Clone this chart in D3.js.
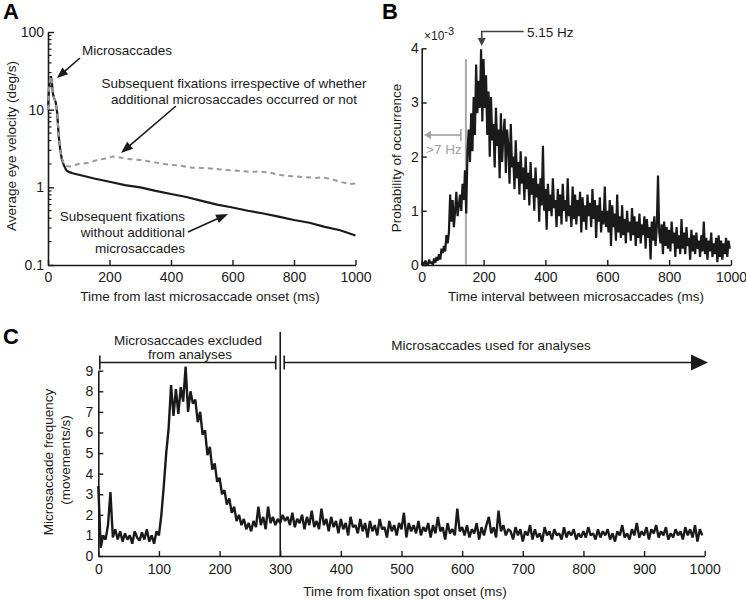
<!DOCTYPE html>
<html>
<head>
<meta charset="utf-8">
<script src="https://cdn.jsdelivr.net/npm/d3@7"></script>
<style>
  html, body { margin: 0; padding: 0; background: #fff; }
  svg text { font-family: "Liberation Sans", Arial, sans-serif; }
</style>
</head>
<body>
<svg id="chart" width="746" height="600"></svg>
<script>
// ---------------- DATA ----------------
// Panel A: average eye velocity (deg/s) vs time from last microsaccade onset (ms)
const timesASolid = [0,3,6,9,12,16,20,25,30,35,40,45,50,55,60,70,80,100,150,200,250,300,350,400,450,500,550,600,650,700,750,800,850,900,950,1000];
const velSolid    = [10,18,24,27,24,16,14,12.5,9,4.5,3,2.3,2.0,1.8,1.65,1.57,1.52,1.45,1.3,1.18,1.07,1.0,0.9,0.82,0.75,0.67,0.6,0.55,0.5,0.46,0.42,0.38,0.35,0.31,0.28,0.24];
const timesADashed = [0,3,6,9,12,16,20,25,30,35,40,45,50,55,70,100,130,160,190,210,240,270,300,330,360,400,430,460,500,530,560,600,630,660,690,720,750,780,810,840,870,890,920,950,980,1000];
const velDashed    = [10,18,24,27,24,16,14,12.5,9,4.5,3,2.4,2.1,1.9,1.85,2.0,2.05,2.25,2.35,2.5,2.4,2.3,2.25,2.15,2.05,1.95,1.9,1.8,1.78,1.75,1.7,1.65,1.62,1.58,1.6,1.55,1.45,1.4,1.38,1.35,1.32,1.35,1.28,1.18,1.1,1.12];
const ticksAX = [0,200,400,600,800,1000];
const ticksAY = [0.1,1,10,100];
const tickLabelsAY = ["0.1","1","10","100"];

// Panel B: probability of occurrence (x10^-3), 4-ms bins from 0 to 996 ms
const binB = 4;
const probB = [
 0,0.05,0,0.08,0.02,0,0.1,0.03,0.06,0,
 0.12,0.04,0.15,0.08,0.2,0.1,0.3,0.22,0.35,0.25,
 0.55,0.4,0.6,1.3,0.8,1.2,0.7,1.0,1.35,0.9,
 1.1,1.3,1.0,1.5,1.2,1.75,0.95,2.1,2.5,1.9,
 2.8,2.1,3.1,2.4,3.7,2.8,3.4,2.9,3.98,2.65,
 3.8,2.9,3.5,2.4,3.2,2.0,3.1,2.3,2.6,1.8,
 2.9,2.2,2.5,1.6,2.8,1.9,2.4,2.7,1.7,2.5,
 2.2,1.5,2.6,1.8,2.0,1.4,2.3,1.6,1.9,1.3,
 2.1,1.5,1.8,1.2,2.0,1.4,1.7,1.1,1.9,1.3,
 1.6,1.0,1.8,1.25,1.5,0.8,1.6,1.1,2.2,1.0,
 1.4,0.65,1.5,1.0,1.3,0.9,1.6,1.05,1.2,0.7,
 1.4,0.9,1.3,0.75,1.5,1.0,1.2,0.8,1.6,0.9,
 1.1,0.7,1.45,0.85,1.3,0.75,1.2,0.9,1.35,0.6,
 1.25,0.8,1.1,0.65,1.3,0.9,1.15,0.7,1.4,0.85,
 1.2,0.5,1.1,0.8,1.25,0.6,1.0,0.75,1.45,0.7,
 1.0,0.6,1.2,0.35,1.1,0.7,0.95,0.45,1.3,0.6,
 0.9,0.5,1.1,0.55,0.85,0.4,1.0,0.6,0.8,0.45,
 1.05,0.55,0.9,0.35,0.8,0.5,0.95,0.4,0.75,0.55,
 0.9,0.3,0.85,0.5,0.7,0.1,0.8,0.45,0.9,0.35,
 0.7,1.65,0.6,0.4,0.75,0.2,0.8,0.35,0.7,0.3,
 0.65,0.25,0.8,0.4,0.6,0.15,0.7,0.3,0.55,0.2,
 0.85,0.3,0.6,0.2,0.7,0.35,0.5,0.1,0.65,0.25,
 0.55,0.2,0.6,0.3,0.45,0.15,0.55,0.25,0.8,0.2,
 0.5,0.1,0.45,0.25,0.6,0.15,0.4,0.2,0.5,0.05,
 0.55,0.15,0.45,0.1,0.4,0.2,0.5,0.15,0.45,0.3
];
const ticksBX = [0,200,400,600,800,1000];
const ticksBY = [0,1,2,3,4];
const cutoffHzB = 7;      // grey line at 1000/7 ms
const peakHzB = 5.15;     // arrow at 1000/5.15 ms

// Panel C: microsaccade frequency (movements/s), 4-ms bins from 0 to 996 ms
const binC = 4;
const freqC = [
 3.4,0.4,1.0,0.8,1.5,3.1,0.9,1.3,0.8,1.2,
 0.7,1.1,0.8,1.0,0.6,1.2,0.9,0.75,1.15,0.8,
 1.3,0.7,1.0,0.6,1.2,1.0,2.0,3.4,5.0,6.2,
 8.3,6.8,8.1,6.9,8.2,7.5,9.2,7.0,8.0,7.4,
 7.6,6.5,7.0,5.9,6.1,4.9,5.3,4.2,4.5,3.6,
 3.8,3.0,3.2,2.5,2.8,2.1,2.4,1.7,2.0,1.5,
 1.8,1.3,1.6,1.2,1.7,1.4,2.4,1.5,1.9,1.3,
 2.4,1.6,1.9,1.5,1.8,1.6,2.0,1.7,1.9,1.5,
 2.1,1.4,1.8,1.6,2.0,1.3,1.9,1.5,2.2,1.4,
 1.7,1.3,2.3,1.5,1.8,1.2,1.9,1.4,1.7,1.1,
 1.8,1.3,1.6,1.0,1.9,1.4,1.5,1.1,1.8,1.2,
 1.6,0.9,1.7,1.2,1.5,1.0,1.8,1.3,1.4,0.9,
 1.7,1.2,1.5,1.0,1.6,1.3,2.1,0.9,1.6,1.2,
 1.5,1.1,1.7,1.0,1.4,1.2,1.6,0.9,1.5,1.1,
 1.9,1.2,1.4,0.8,1.6,1.1,1.3,1.0,2.3,1.2,
 1.4,1.0,1.5,0.9,1.3,1.1,1.6,0.8,1.4,1.0,
 1.5,1.9,1.1,1.4,0.9,2.2,1.2,1.5,1.0,1.3,
 1.2,0.8,1.4,1.0,1.3,0.7,1.2,1.0,1.5,0.8,
 1.3,0.9,1.1,0.7,1.4,1.0,1.2,0.8,1.3,1.0,
 1.1,0.8,1.4,0.9,1.2,1.0,1.3,0.8,1.1,0.9,
 1.2,0.9,1.4,1.0,1.1,0.8,1.3,0.9,1.2,1.0,
 1.3,0.8,1.1,0.7,1.2,1.0,1.5,0.9,1.1,0.8,
 1.3,1.0,1.6,0.9,1.2,1.0,1.4,0.8,1.3,1.1,
 1.5,0.9,1.2,1.0,1.4,0.8,1.1,0.9,1.3,1.0,
 1.2,0.8,1.4,1.0,1.3,0.9,1.5,0.7,1.3,1.0
];
const ticksCX = [0,100,200,300,400,500,600,700,800,900,1000];
const ticksCY = [0,1,2,3,4,5,6,7,8,9];
const splitC = 300;

// ---------------- DRAWING ----------------
const svg = d3.select("#chart");
const FONT = 13.5;

function axisStyle(g) {
  g.select(".domain").attr("stroke", "#1a1a1a").attr("stroke-width", 1.6);
  g.selectAll(".tick line").attr("stroke", "#1a1a1a").attr("stroke-width", 1.4);
  g.selectAll(".tick text").attr("font-size", 14).attr("fill", "#1a1a1a")
    .attr("font-family", '"Liberation Sans", Arial, sans-serif');
}

function arrowHead(g, x1, y1, x2, y2, color, len, w) {
  const a = Math.atan2(y2 - y1, x2 - x1);
  const bx = x2 - len * Math.cos(a), by = y2 - len * Math.sin(a);
  const px = -Math.sin(a) * w / 2, py = Math.cos(a) * w / 2;
  g.append("polygon")
    .attr("points", `${x2},${y2} ${bx + px},${by + py} ${bx - px},${by - py}`)
    .attr("fill", color);
}
function arrow(g, x1, y1, x2, y2, color, sw, len, w) {
  const a = Math.atan2(y2 - y1, x2 - x1);
  g.append("line").attr("x1", x1).attr("y1", y1)
    .attr("x2", x2 - (len - 1) * Math.cos(a)).attr("y2", y2 - (len - 1) * Math.sin(a))
    .attr("stroke", color).attr("stroke-width", sw);
  arrowHead(g, x1, y1, x2, y2, color, len, w);
}
function label(g, x, y, txt, opts = {}) {
  return g.append("text").attr("x", x).attr("y", y).text(txt)
    .attr("font-size", opts.size || FONT)
    .attr("fill", opts.color || "#1a1a1a")
    .attr("text-anchor", opts.anchor || "middle")
    .attr("font-weight", opts.weight || "normal");
}

// ===== Panel A =====
const gA = svg.append("g");
const xA = d3.scaleLinear().domain([0, 1000]).range([48, 355.5]);
const yA = d3.scaleLog().domain([0.1, 100]).range([265, 32]);

const minorA = [];
[0.1, 1, 10].forEach(d => { for (let k = 2; k <= 9; k++) minorA.push(d * k); });
gA.append("g").selectAll("line").data(minorA).join("line")
  .attr("x1", xA(0)).attr("x2", xA(0) + 3.5)
  .attr("y1", d => yA(d)).attr("y2", d => yA(d))
  .attr("stroke", "#1a1a1a").attr("stroke-width", 1.2);

const axAx = gA.append("g").attr("transform", `translate(0,${yA(0.1)})`)
  .call(d3.axisBottom(xA).tickValues(ticksAX).tickSizeInner(-5).tickSizeOuter(0).tickPadding(7).tickFormat(d3.format("d")));
axisStyle(axAx);
const axAy = gA.append("g").attr("transform", `translate(${xA(0)},0)`)
  .call(d3.axisLeft(yA).tickValues(ticksAY).tickSizeInner(-6).tickSizeOuter(0).tickPadding(4)
    .tickFormat((d, i) => tickLabelsAY[i]));
axisStyle(axAy);

const lineA = d3.line().x(d => xA(d[0])).y(d => yA(d[1]));
gA.append("path").datum(timesASolid.map((t, i) => [t, velSolid[i]]))
  .attr("d", lineA).attr("fill", "none").attr("stroke", "#1a1a1a").attr("stroke-width", 2.2);
gA.append("path").datum(timesADashed.map((t, i) => [t, velDashed[i]]))
  .attr("d", lineA).attr("fill", "none").attr("stroke", "#9a9a9a").attr("stroke-width", 2)
  .attr("stroke-dasharray", "5,4");

label(gA, 3, 19, "A", { size: 22, weight: "bold", anchor: "start", color: "#000" });
label(gA, 0, 0, "Average eye velocity (deg/s)").attr("transform", "translate(16,146) rotate(-90)");
label(gA, 200, 301, "Time from last microsaccade onset (ms)");

label(gA, 82, 55, "Microsaccades", { anchor: "start" });
arrow(gA, 80, 58, 57, 78, "#1a1a1a", 1.6, 11, 9);
label(gA, 234, 88, "Subsequent fixations irrespective of whether");
label(gA, 234, 104, "additional microsaccades occurred or not");
arrow(gA, 176, 106, 121, 153, "#1a1a1a", 1.6, 12, 9);
label(gA, 185, 221, "Subsequent fixations", { anchor: "end" });
label(gA, 185, 237, "without additional", { anchor: "end" });
label(gA, 185, 253, "microsaccades", { anchor: "end" });
arrow(gA, 188, 232, 228, 214, "#1a1a1a", 1.6, 12, 9);

// ===== Panel B =====
const gB = svg.append("g");
const xB = d3.scaleLinear().domain([0, 1000]).range([421.7, 731]);
const yB = d3.scaleLinear().domain([0, 4]).range([265, 48.3]);

const axBx = gB.append("g").attr("transform", `translate(0,${yB(0)})`)
  .call(d3.axisBottom(xB).tickValues(ticksBX).tickSizeInner(-5).tickSizeOuter(0).tickPadding(7).tickFormat(d3.format("d")));
axisStyle(axBx);
const axBy = gB.append("g").attr("transform", `translate(${xB(0)},0)`)
  .call(d3.axisLeft(yB).tickValues(ticksBY).tickSizeInner(-5).tickSizeOuter(0).tickPadding(3).tickFormat(d3.format("d")));
axisStyle(axBy);

const xCut = xB(1000 / cutoffHzB);
gB.append("line").attr("x1", xCut).attr("x2", xCut).attr("y1", yB(0)).attr("y2", yB(3.8))
  .attr("stroke", "#a8a8a8").attr("stroke-width", 2);

gB.append("path").datum(probB.map((v, i) => [i * binB, v]))
  .attr("d", d3.line().x(d => xB(d[0])).y(d => yB(d[1])))
  .attr("fill", "none").attr("stroke", "#1a1a1a").attr("stroke-width", 2.2).attr("stroke-linejoin", "bevel");

// >7 Hz arrow
const yHz = 135;
arrow(gB, xCut - 5, yHz, 424, yHz, "#a0a0a0", 1.6, 7, 8);
gB.append("line").attr("x1", xCut - 5).attr("x2", xCut - 5).attr("y1", yHz - 6).attr("y2", yHz + 6)
  .attr("stroke", "#a0a0a0").attr("stroke-width", 1.6);
label(gB, 426, 154, ">7 Hz", { anchor: "start", color: "#a0a0a0" });

// 5.15 Hz arrow
const xPk = xB(1000 / peakHzB);
gB.append("path").attr("d", `M${xB(0) + 102},31.5 H${xPk} V40`)
  .attr("fill", "none").attr("stroke", "#404040").attr("stroke-width", 1.6);
arrowHead(gB, xPk, 31.5, xPk, 46, "#404040", 8, 8);
label(gB, 527, 37, "5.15 Hz", { anchor: "start" });

const sci = gB.append("text").attr("x", 424).attr("y", 40).attr("font-size", 12).attr("fill", "#1a1a1a");
sci.append("tspan").text("×10");
sci.append("tspan").text("-3").attr("dy", -5).attr("font-size", 11);

label(gB, 382, 19, "B", { size: 22, weight: "bold", anchor: "start", color: "#000" });
label(gB, 0, 0, "Probability of occurrence").attr("transform", "translate(401,158) rotate(-90)");
label(gB, 576, 301, "Time interval between microsaccades (ms)");

// ===== Panel C =====
const gC = svg.append("g");
const xC = d3.scaleLinear().domain([0, 1000]).range([98.3, 704.7]);
const yC = d3.scaleLinear().domain([0, 9]).range([556, 370.7]);

const axCx = gC.append("g").attr("transform", `translate(0,${yC(0)})`)
  .call(d3.axisBottom(xC).tickValues(ticksCX).tickSizeInner(-5).tickSizeOuter(0).tickPadding(8).tickFormat(d3.format("d")));
axisStyle(axCx);
const axCy = gC.append("g").attr("transform", `translate(${xC(0)},0)`)
  .call(d3.axisLeft(yC).tickValues(ticksCY).tickSizeInner(-5).tickSizeOuter(0).tickPadding(5).tickFormat(d3.format("d")));
axisStyle(axCy);

gC.append("path").datum(freqC.map((v, i) => [i * binC, v]))
  .attr("d", d3.line().x(d => xC(d[0])).y(d => yC(d[1])))
  .attr("fill", "none").attr("stroke", "#1a1a1a").attr("stroke-width", 2.4).attr("stroke-linejoin", "bevel");

const xS = xC(splitC);
gC.append("line").attr("x1", xS).attr("x2", xS).attr("y1", 332).attr("y2", yC(0))
  .attr("stroke", "#1a1a1a").attr("stroke-width", 1.6);

const yBr = 362.5;
gC.append("line").attr("x1", xC(0) + 1.5).attr("x2", xS - 4.5).attr("y1", yBr).attr("y2", yBr)
  .attr("stroke", "#1a1a1a").attr("stroke-width", 1.6);
[xC(0) + 1.5, xS - 4.5, xS + 4].forEach(x => {
  gC.append("line").attr("x1", x).attr("x2", x).attr("y1", yBr - 7).attr("y2", yBr + 7)
    .attr("stroke", "#1a1a1a").attr("stroke-width", 1.6);
});
arrow(gC, xS + 4, yBr, 708, yBr, "#1a1a1a", 1.6, 17, 16);

label(gC, 188, 345, "Microsaccades excluded");
label(gC, 190, 359, "from analyses");
label(gC, 491, 350, "Microsaccades used for analyses");

label(gC, 3, 344, "C", { size: 22, weight: "bold", anchor: "start", color: "#000" });
label(gC, 0, 0, "Microsaccade frequency").attr("transform", "translate(53,462) rotate(-90)");
label(gC, 0, 0, "(movements/s)").attr("transform", "translate(70,460) rotate(-90)");
label(gC, 405, 596, "Time from fixation spot onset (ms)");
</script>
</body>
</html>
